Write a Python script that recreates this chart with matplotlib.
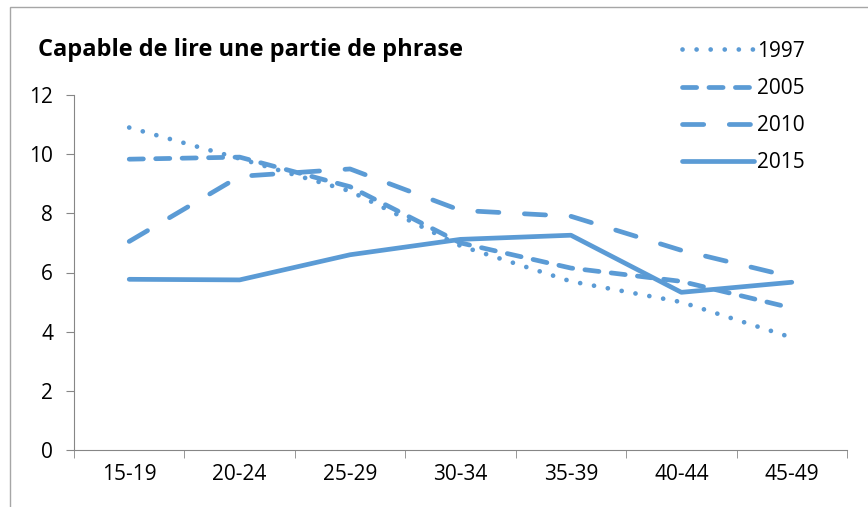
import matplotlib.pyplot as plt
from matplotlib.patches import Rectangle

cats = ['15-19', '20-24', '25-29', '30-34', '35-39', '40-44', '45-49']
v1997 = [10.9, 9.85, 8.75, 6.9, 5.7, 5.0, 3.8]
v2005 = [9.83, 9.9, 8.9, 7.0, 6.15, 5.7, 4.8]
v2010 = [7.05, 9.25, 9.5, 8.1, 7.9, 6.75, 5.85]
v2015 = [5.77, 5.75, 6.6, 7.12, 7.26, 5.33, 5.67]
years = ['1997', '2005', '2010', '2015']

plt.rcParams['font.family'] = ['Open Sans', 'DejaVu Sans']
blue = '#5b9bd5'
grey = '#868686'

fig = plt.figure(figsize=(8.68, 5.07), dpi=100)
ax = fig.add_axes([74/868, 1-450/507, (847-74)/868, (450-95)/507])

# outer chart frame (runs off the right and bottom of the picture)
fig.patches.append(Rectangle((10/868, -0.1), 1.2, 1 - 7/507 + 0.1, transform=fig.transFigure,
                             fill=False, edgecolor='#a6a6a6', lw=1.0))

x = list(range(len(cats)))
lw = 3.4
styles = [(0, (0.01, 2.97)), (0, (3.0, 2.6)), (0, (4.5, 5.4)), '-']
for vals, ls, lab in zip([v1997, v2005, v2010, v2015], styles, years):
    ax.plot(x, vals, color=blue, lw=lw, linestyle=ls, dash_capstyle='round',
            solid_capstyle='round', solid_joinstyle='round', label=lab)

ax.set_xlim(-0.5, len(cats) - 0.5)
ax.set_ylim(0, 12)
ax.set_yticks(range(0, 13, 2))
ax.set_xticks(x)
ax.set_xticklabels(cats)
ax.set_xticks([i - 0.5 for i in range(len(cats) + 1)], minor=True)
ax.tick_params(axis='x', which='major', length=0, pad=10, labelsize=15)
ax.tick_params(axis='x', which='minor', length=6, color=grey, direction='out')
ax.tick_params(axis='y', length=6, color=grey, pad=9, labelsize=15)
for s in ['top', 'right']:
    ax.spines[s].set_visible(False)
for s in ['left', 'bottom']:
    ax.spines[s].set_color(grey)

fig.text(38/868, 1-50/507, 'Capable de lire une partie de phrase', fontsize=17,
         fontweight='bold', va='center', ha='left')

leg = ax.legend(loc='upper left', bbox_to_anchor=(663/868, 1-22/507), bbox_transform=fig.transFigure,
                frameon=False, fontsize=15, handlelength=3.45, handletextpad=0.15, labelspacing=0.77)

fig.savefig('out.png', dpi=100)
